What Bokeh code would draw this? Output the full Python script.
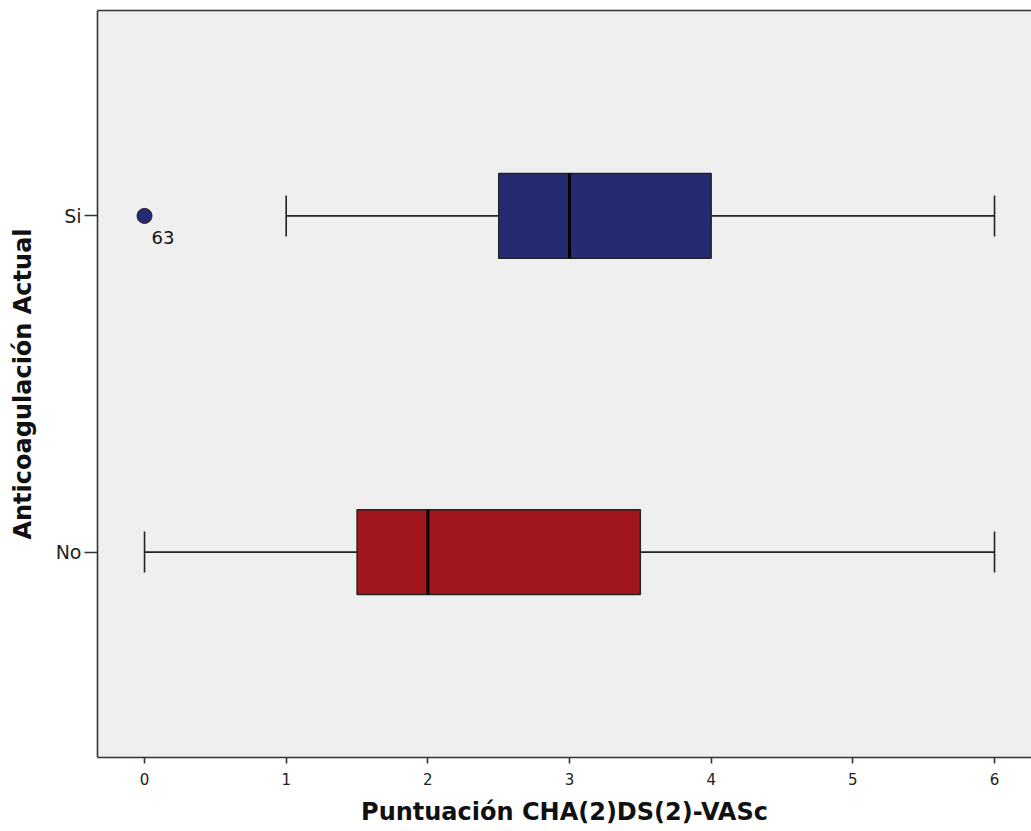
from bokeh.plotting import figure
from bokeh.models import ColumnDataSource, FactorRange, Range1d, LinearAxis, FixedTicker
from bokeh.transform import dodge
from bokeh.core.properties import value
from bokeh.embed import file_html
from bokeh.resources import INLINE

# ---- data ----
groups = ["Si", "No"]
whisker_low = [1, 0]
q1 = [2.5, 1.5]
median = [3, 2]
q3 = [4, 3.5]
whisker_high = [6, 6]
box_colors = ["#262a73", "#a1161c"]

outlier_x = [0]
outlier_group = ["Si"]
outlier_label = ["63"]

x_ticks = [0, 1, 2, 3, 4, 5, 6]

FONT = "DejaVu Sans"

src = ColumnDataSource(dict(g=groups, lo=whisker_low, q1=q1, med=median,
                            q3=q3, hi=whisker_high, color=box_colors))
osrc = ColumnDataSource(dict(x=outlier_x, g=outlier_group, lab=outlier_label))

p = figure(width=1031, height=831, output_backend="svg", toolbar_location=None,
           x_range=Range1d(-0.332, 6.261),
           y_range=FactorRange(factors=["No", "Si"], range_padding=0.111),
           min_border_left=97, min_border_right=0, min_border_top=10,
           min_border_bottom=74)

p.background_fill_color = "#efefef"
p.border_fill_color = "white"
p.outline_line_color = None
p.grid.visible = False

# whiskers
p.segment(x0="lo", y0="g", x1="q1", y1="g", source=src, line_color="#222222", line_width=1.6)
p.segment(x0="q3", y0="g", x1="hi", y1="g", source=src, line_color="#222222", line_width=1.6)
# caps
for col in ["lo", "hi"]:
    p.segment(x0=col, x1=col,
              y0=dodge("g", -0.061, range=p.y_range),
              y1=dodge("g", 0.061, range=p.y_range),
              source=src, line_color="#222222", line_width=1.6)
# boxes
p.hbar(y="g", left="q1", right="q3", height=0.252, source=src,
       fill_color="color", line_color="#222222", line_width=1.4)
# medians
p.segment(x0="med", x1="med",
          y0=dodge("g", -0.126, range=p.y_range),
          y1=dodge("g", 0.126, range=p.y_range),
          source=src, line_color="black", line_width=3)
# outliers
p.scatter(x="x", y="g", source=osrc, size=15, fill_color="#262a73",
          line_color="#222222", line_width=1)
p.text(x="x", y="g", text="lab", source=osrc, x_offset=7, y_offset=15,
       text_font=value(FONT), text_font_size="18px", text_color="#111111",
       text_baseline="top", text_align="left")

# axes
xa = p.xaxis[0]
xa.ticker = x_ticks
xa.axis_label = "Puntuación CHA(2)DS(2)-VASc"
xa.axis_label_text_font = FONT
xa.axis_label_text_font_style = "bold"
xa.axis_label_text_font_size = "24px"
xa.axis_label_text_color = "#111111"
xa.axis_label_standoff = 10
xa.major_label_text_font = FONT
xa.major_label_text_font_size = "15px"
xa.major_label_text_color = "#222222"
xa.major_label_standoff = 9
xa.major_tick_out = 6
xa.major_tick_in = 0
xa.minor_tick_line_color = None
xa.axis_line_color = "#333333"
xa.axis_line_width = 1.6
xa.major_tick_line_color = "#333333"
xa.major_tick_line_width = 1.6

ya = p.yaxis[0]
ya.axis_label = "Anticoagulación Actual"
ya.axis_label_text_font = FONT
ya.axis_label_text_font_style = "bold"
ya.axis_label_text_font_size = "24px"
ya.axis_label_text_color = "#111111"
ya.axis_label_standoff = 16
ya.major_label_text_font = FONT
ya.major_label_text_font_size = "19px"
ya.major_label_text_color = "#222222"
ya.major_label_standoff = 3
ya.major_tick_out = 13
ya.major_tick_in = 0
ya.axis_line_color = "#333333"
ya.axis_line_width = 1.6
ya.major_tick_line_color = "#333333"
ya.major_tick_line_width = 1.6

top = LinearAxis(ticker=FixedTicker(ticks=[]), major_tick_line_color=None,
                 minor_tick_line_color=None, axis_line_color="#333333",
                 axis_line_width=1.6)
p.add_layout(top, "above")

open("out.html", "w").write(file_html(p, INLINE))
